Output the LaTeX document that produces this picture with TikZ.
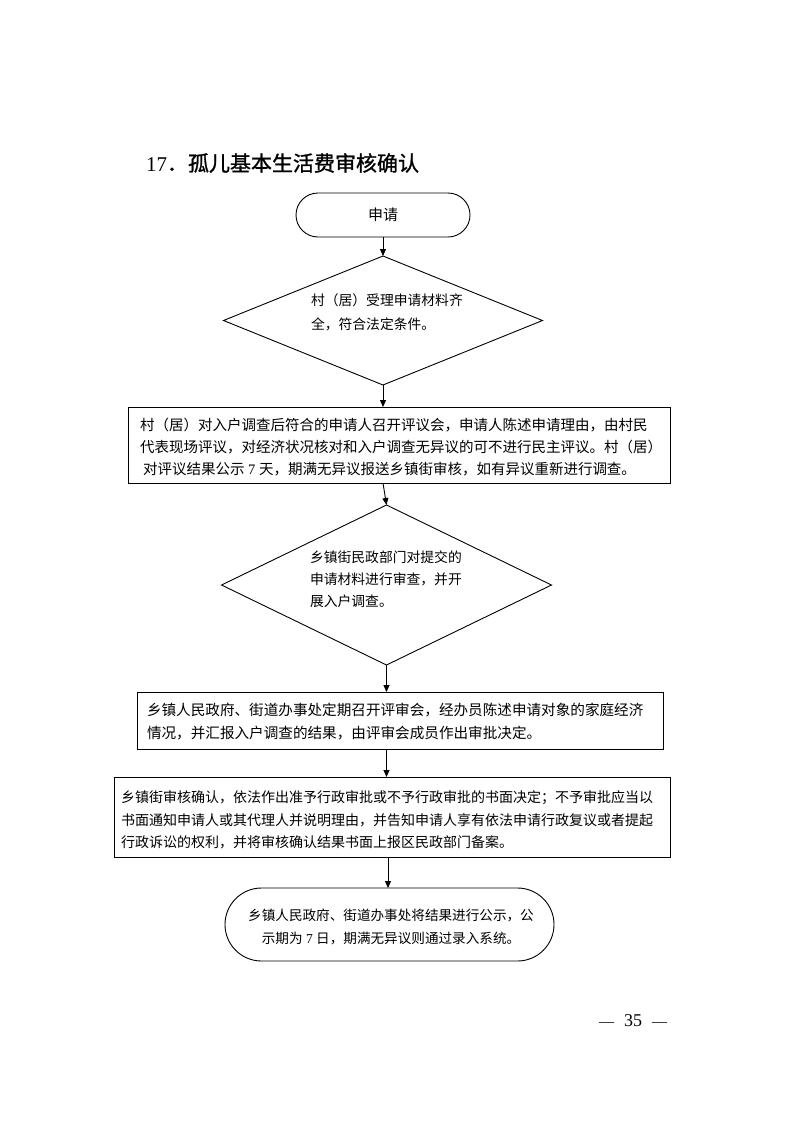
\documentclass[tikz,border=0pt]{standalone}
\usepackage{fontspec}
\usetikzlibrary{shapes.geometric,shapes.misc,arrows.meta}
\newfontfamily\cjk{Noto Sans CJK SC}
\newfontfamily\cjkt[FakeBold=1.2]{Noto Sans CJK SC}
\newfontfamily\tm{Liberation Serif}
\begin{document}
\begin{tikzpicture}[x=1pt,y=-1pt,
  every node/.style={inner sep=0pt,outer sep=0pt},
  shapeline/.style={draw=black,line width=0.9pt},
  boxnode/.style={shapeline,rectangle},
  termnode/.style={shapeline,rounded rectangle},
  decnode/.style={shapeline,diamond},
  txt/.style={align=left,font=\cjk},
  arr/.style={line width=0.9pt,-{Triangle[length=7pt,width=6pt]}}]
\useasboundingbox (0,0) rectangle (793,1122);
\fill[white] (0,0) rectangle (793,1122);

% title
\node[anchor=west,font=\cjkt\fontsize{21}{24}\selectfont] (title) at (146,163) {{\tm 17}．孤儿基本生活费审核确认};

% start
\node[termnode,minimum width=174pt,minimum height=44pt,font=\cjk\fontsize{15}{18}\selectfont] (t1) at (383,215) {申请};

% decision 1
\node[decnode,minimum width=319pt,minimum height=129pt,aspect=2.47] (d1) at (383,320.5) {};
\node[txt,anchor=north west,font=\cjk\fontsize{13.8}{23.5}\selectfont] (d1t) at (311,294) {村（居）受理申请材料齐\\全，符合法定条件。};

% box 1
\node[boxnode,minimum width=542pt,minimum height=76pt] (b1) at (399,445) {};
\node[txt,anchor=west,font=\cjk\fontsize{14.5}{22}\selectfont] (b1t) at (140,447) {村（居）对入户调查后符合的申请人召开评议会，申请人陈述申请理由，由村民\\代表现场评议，对经济状况核对和入户调查无异议的可不进行民主评议。村（居）\\\hspace*{3pt}对评议结果公示{\tm\ 7\ }天，期满无异议报送乡镇街审核，如有异议重新进行调查。};

% decision 2
\node[decnode,minimum width=330pt,minimum height=160pt,aspect=2.06] (d2) at (386.5,585) {};
\node[txt,anchor=north west,font=\cjk\fontsize{13.8}{22}\selectfont] (d2t) at (310,551) {乡镇街民政部门对提交的\\申请材料进行审查，并开\\展入户调查。};

% box 2
\node[boxnode,minimum width=526pt,minimum height=57pt] (b2) at (400,720.5) {};
\node[txt,anchor=west,font=\cjk\fontsize{14.6}{23}\selectfont] (b2t) at (147,722) {乡镇人民政府、街道办事处定期召开评审会，经办员陈述申请对象的家庭经济\\情况，并汇报入户调查的结果，由评审会成员作出审批决定。};

% box 3
\node[boxnode,minimum width=556pt,minimum height=80pt] (b3) at (392,817) {};
\node[txt,anchor=west,font=\cjk\fontsize{14.0}{22.5}\selectfont] (b3t) at (121,820) {乡镇街审核确认，依法作出准予行政审批或不予行政审批的书面决定；不予审批应当以\\书面通知申请人或其代理人并说明理由，并告知申请人享有依法申请行政复议或者提起\\行政诉讼的权利，并将审核确认结果书面上报区民政部门备案。};

% end
\node[termnode,minimum width=329pt,minimum height=73pt] (t2) at (389.5,924.5) {};
\node[txt,align=center,font=\cjk\fontsize{13.6}{23}\selectfont] (t2t) at (391,927) {乡镇人民政府、街道办事处将结果进行公示，公\\示期为{\tm\ 7\ }日，期满无异议则通过录入系统。};

% page number
\node[font=\tm\fontsize{18}{20}\selectfont] (pg) at (633,1021) {{\fontsize{15}{18}\selectfont —}\hspace{10pt}35\hspace{10pt}{\fontsize{15}{18}\selectfont —}};

% connectors
\draw[arr] (t1.south) -- (d1.north);
\draw[arr] (d1.south) -- (d1.south |- b1.north);
\draw[arr] (d1.south |- b1.south) -- (d2.north);
\draw[arr] (d2.south) -- (d2.south |- b2.north);
\draw[arr] (d2.south |- b2.south) -- (d2.south |- b3.north);
\draw[arr] ([xshift=1.5pt]d2.south |- b3.south) -- ([xshift=1.5pt]d2.south |- t2.north);
\end{tikzpicture}
\end{document}
